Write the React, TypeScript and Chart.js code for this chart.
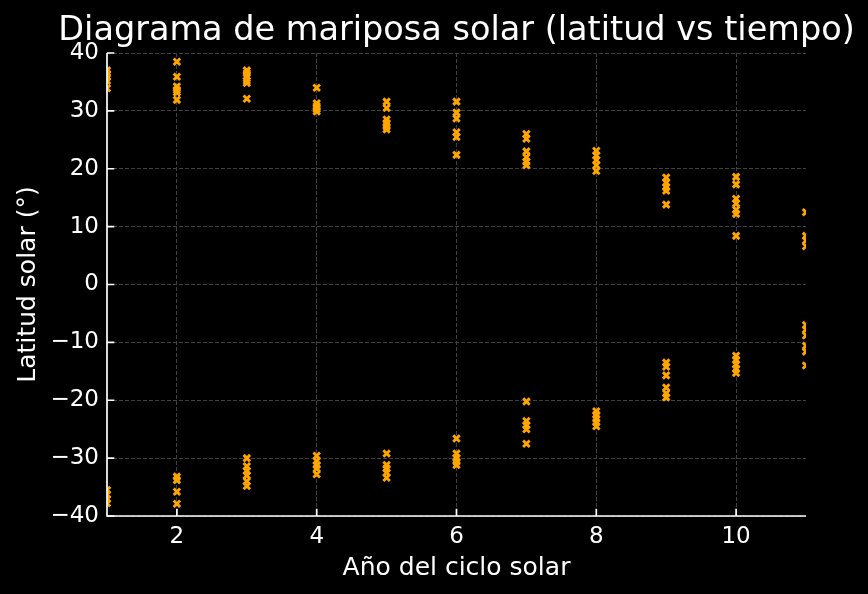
import React, { useEffect, useRef } from "react";
import { Chart, registerables } from "chart.js";

Chart.register(...registerables);

const titleText = "Diagrama de mariposa solar (latitud vs tiempo)";
const xLabel = "Año del ciclo solar";
const yLabel = "Latitud solar (°)";

const years = [1, 2, 3, 4, 5, 6, 7, 8, 9, 10, 11];

const northLatitudes: number[][] = [
  [37.0, 36.4, 35.8, 35.2, 33.9],
  [38.5, 35.9, 34.2, 33.6, 33.2, 31.9],
  [37.0, 36.5, 36.0, 35.2, 34.8, 32.1],
  [34.0, 31.3, 30.8, 30.3, 29.9],
  [31.6, 30.5, 28.5, 27.9, 27.3, 26.8],
  [31.6, 29.7, 28.7, 26.3, 25.5, 22.4],
  [26.0, 25.2, 23.0, 22.0, 21.2, 20.6],
  [23.1, 22.3, 21.5, 20.6, 19.6],
  [18.5, 17.6, 16.8, 16.2, 13.8],
  [18.6, 17.3, 14.8, 14.0, 12.9, 12.2, 8.4],
  [12.5, 8.4, 7.6, 6.6],
];

const southLatitudes: number[][] = [
  [-35.5, -36.3, -37.1, -37.8],
  [-33.2, -33.8, -35.8, -37.9],
  [-30.0, -31.4, -32.2, -33.0, -34.0, -34.8],
  [-29.6, -30.5, -31.2, -31.8, -32.8],
  [-29.2, -31.2, -31.8, -32.5, -33.4],
  [-26.6, -29.2, -30.0, -30.6, -31.2],
  [-20.2, -23.6, -24.3, -25.0, -27.5],
  [-21.9, -22.5, -23.2, -23.8, -24.5],
  [-13.5, -14.2, -15.7, -17.8, -18.8, -19.5],
  [-12.3, -13.0, -13.8, -14.6, -15.3],
  [-7.0, -7.8, -8.8, -10.6, -11.6, -14.0],
];

const xTicks = [2, 4, 6, 8, 10];
const yTicks = [-40, -30, -20, -10, 0, 10, 20, 30, 40];

const FONT = "'DejaVu Sans', sans-serif";
const ORANGE = "#FFA500";

const mplPlugin = {
  id: "mplAxes",
  afterDatasetsDraw(chart: any) {
    const { ctx, chartArea, scales } = chart;
    const { left, right, top, bottom } = chartArea;
    const x = scales.x;
    const y = scales.y;
    ctx.save();
    ctx.strokeStyle = "#ffffff";
    ctx.lineWidth = 1.7;
    ctx.beginPath();
    xTicks.forEach((v) => {
      const px = x.getPixelForValue(v);
      ctx.moveTo(px, bottom);
      ctx.lineTo(px, bottom - 7.3);
    });
    yTicks.forEach((v) => {
      const py = y.getPixelForValue(v);
      ctx.moveTo(left, py);
      ctx.lineTo(left + 7.3, py);
    });
    ctx.stroke();
    ctx.beginPath();
    ctx.moveTo(left, top);
    ctx.lineTo(left, bottom);
    ctx.lineTo(right, bottom);
    ctx.stroke();
    ctx.restore();
  },
  afterDraw(chart: any) {
    const { ctx, chartArea } = chart;
    ctx.save();
    ctx.fillStyle = "#ffffff";
    ctx.font = `33.5px ${FONT}`;
    ctx.textAlign = "center";
    ctx.textBaseline = "alphabetic";
    ctx.fillText(titleText, (chartArea.left + chartArea.right) / 2, 40);
    ctx.restore();
  },
};

export default function App() {
  const ref = useRef<HTMLCanvasElement>(null);

  useEffect(() => {
    document.body.style.margin = "0";
    document.body.style.background = "#000";
    const points: { x: number; y: number }[] = [];
    years.forEach((yr, i) => {
      northLatitudes[i].forEach((v) => points.push({ x: yr, y: v }));
      southLatitudes[i].forEach((v) => points.push({ x: yr, y: v }));
    });

    const gridColor = "#404040";
    const chart = new Chart(ref.current as HTMLCanvasElement, {
      type: "scatter",
      data: {
        datasets: [
          {
            data: points,
            pointStyle: "crossRot",
            pointRadius: 4.6,
            pointHoverRadius: 4.6,
            pointBorderWidth: 2.9,
            pointBorderColor: ORANGE,
            pointBackgroundColor: ORANGE,
            borderColor: ORANGE,
            backgroundColor: ORANGE,
            clip: 0,
          } as any,
        ],
      },
      options: {
        animation: false,
        responsive: false,
        devicePixelRatio: 1,
        events: [],
        layout: { padding: { top: 53, right: 62, left: 0, bottom: 0 } },
        plugins: {
          legend: { display: false },
          tooltip: { enabled: false },
          title: { display: false },
        },
        scales: {
          x: {
            type: "linear",
            min: 1,
            max: 11,
            afterBuildTicks: (scale: any) => {
              scale.ticks = xTicks.map((v) => ({ value: v }));
            },
            afterFit: (scale: any) => {
              scale.height = 78;
            },
            grid: { color: gridColor, lineWidth: 1, drawTicks: false },
            border: { display: false, dash: [4, 2] },
            ticks: {
              color: "#ffffff",
              font: { family: FONT, size: 23 },
              padding: 7,
              maxRotation: 0,
              autoSkip: false,
            },
            title: {
              display: true,
              text: xLabel,
              color: "#ffffff",
              font: { family: FONT, size: 25 },
              padding: { top: 0, bottom: 11 },
            },
          },
          y: {
            type: "linear",
            min: -40,
            max: 40,
            afterBuildTicks: (scale: any) => {
              scale.ticks = yTicks.map((v) => ({ value: v }));
            },
            afterFit: (scale: any) => {
              scale.width = 107;
            },
            grid: { color: gridColor, lineWidth: 1, drawTicks: false },
            border: { display: false, dash: [4, 2] },
            ticks: {
              color: "#ffffff",
              font: { family: FONT, size: 23 },
              padding: 8,
              autoSkip: false,
              callback: (v: any) => String(v).replace("-", "\u2212"),
            },
            title: {
              display: true,
              text: yLabel,
              color: "#ffffff",
              font: { family: FONT, size: 25 },
              padding: { top: 13, bottom: 0 },
            },
          },
        },
      },
      plugins: [mplPlugin],
    });
    return () => chart.destroy();
  }, []);

  return (
    <div style={{ position: "absolute", left: 0, top: 0, width: 868, height: 594, background: "#000" }}>
      <canvas ref={ref} width={868} height={594} style={{ display: "block", width: 868, height: 594 }} />
    </div>
  );
}
